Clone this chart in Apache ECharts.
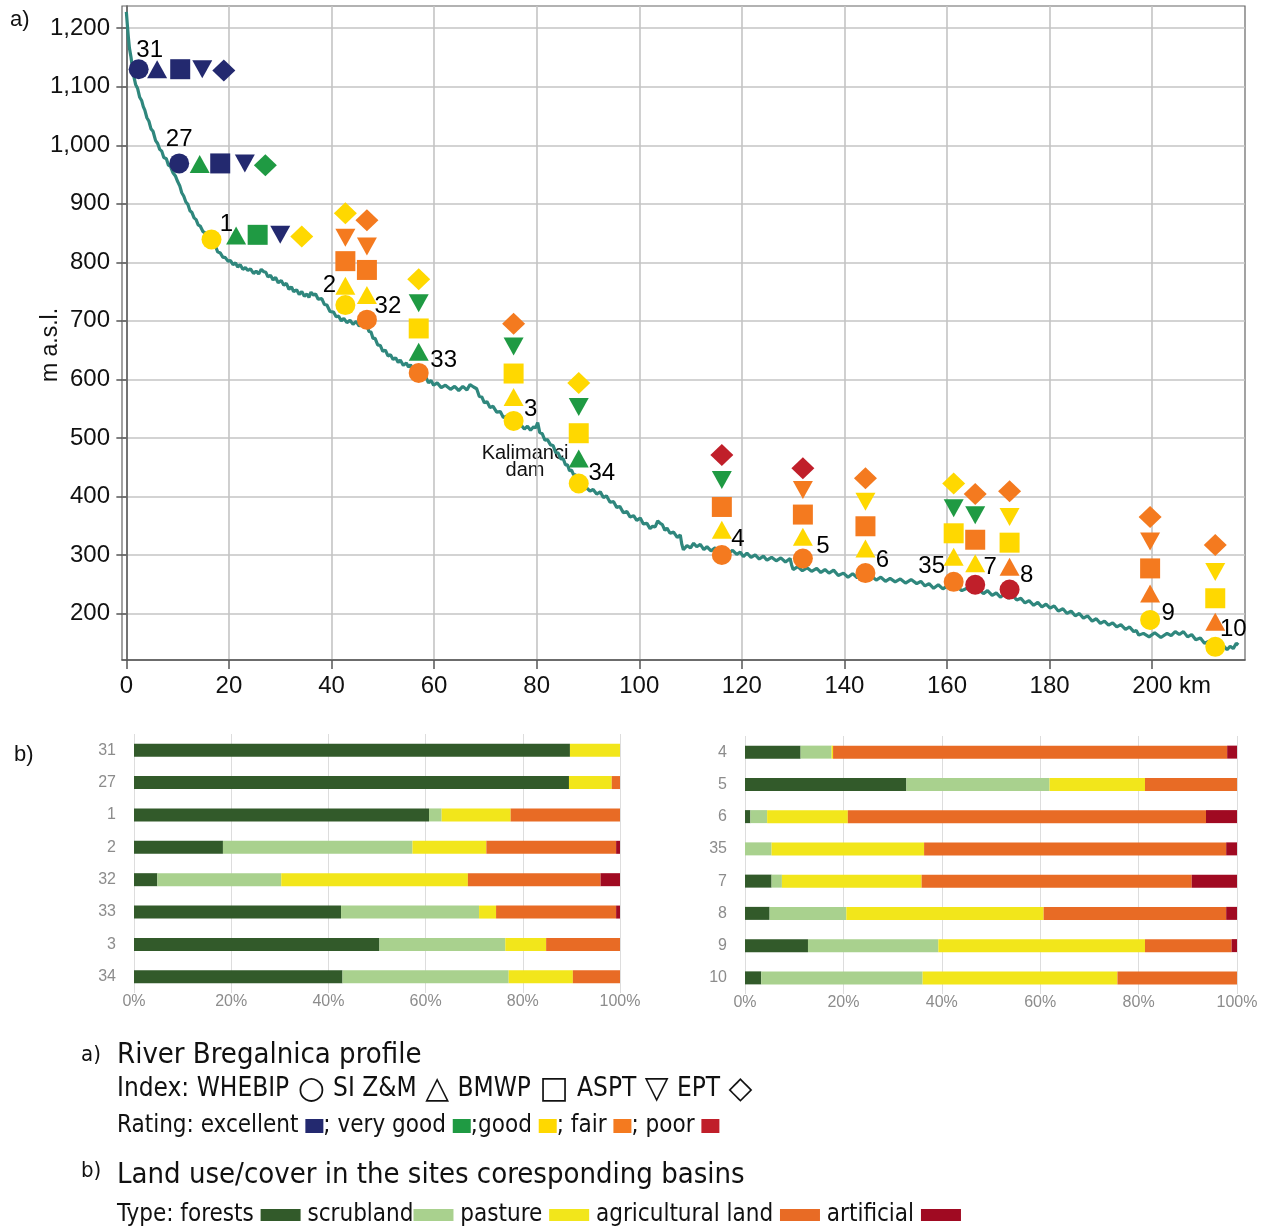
<!DOCTYPE html>
<html>
<head>
<meta charset="utf-8">
<script src="https://cdn.jsdelivr.net/npm/echarts@6/dist/echarts.min.js"></script>
<style>
html,body{margin:0;padding:0;background:#fff;}
#chart{width:1267px;height:1232px;}
</style>
</head>
<body>
<div id="chart"></div>
<script>
// ---------- DATA ----------
// River profile: [km, elevation m a.s.l.]
const riverProfile = [
[0,1228],[0.2,1205],[0.4,1184],[0.6,1166],[0.9,1151],[1.1,1138],[1.4,1120],[1.8,1104],[2.2,1097],[2.6,1082],[3.0,1076],[3.3,1066],[3.6,1060],[4.0,1047],[4.4,1041],[4.8,1028],[5.2,1024],[5.7,1008],[6.1,1003],[6.5,993],[6.9,990],[7.3,979],[7.8,977],[8.2,966],[8.6,964],[9.1,953],[9.6,947],[10.0,938],[10.4,931],[10.8,919],[11.2,913],[11.6,903],[12.0,899],[12.4,888],[12.8,885],[13.2,876],[13.6,873],[14.0,864],[14.4,862],[14.9,853],[15.4,850],[15.9,841],[16.4,839],[16.9,830],[17.4,827],[17.8,818],[18.3,816],[18.8,809],[19.3,808],[19.8,802],[20.3,803],[20.8,796],[21.3,799],[21.7,792],[22.2,796],[22.7,788],[23.2,791],[23.7,786],[24.2,789],[24.8,781],[25.3,785],[25.8,780],[26.3,788],[26.8,784],[27.2,783],[27.6,775],[28.1,778],[28.6,770],[29.1,774],[29.6,765],[30.2,769],[30.7,761],[31.2,764],[31.7,754],[32.2,758],[32.6,750],[33.2,753],[33.7,745],[34.2,750],[34.7,742],[35.2,746],[35.6,740],[36.0,749],[36.5,744],[36.9,746],[37.4,737],[38.1,738],[38.6,728],[39.1,727],[39.7,716],[40.4,715],[40.9,707],[41.4,708],[41.9,700],[42.4,704],[43.0,697],[43.6,701],[44.2,694],[44.8,699],[45.4,691],[46.0,696],[46.4,688],[46.9,692],[47.3,682],[47.7,681],[48.1,670],[48.5,670],[49.0,659],[49.5,658],[50.0,648],[50.5,650],[51.0,640],[51.5,642],[52.0,634],[52.5,637],[53.0,629],[53.4,633],[54.0,624],[54.6,628],[55.0,621],[55.4,625],[55.9,616],[56.4,619],[56.9,610],[57.3,612],[57.8,602],[58.4,604],[58.9,594],[59.4,598],[59.9,590],[60.6,594],[61.4,586],[62.2,590],[63.2,583],[64.0,588],[64.8,581],[65.6,588],[66.4,582],[67.0,591],[67.7,587],[68.3,584],[68.8,571],[69.3,570],[69.8,560],[70.3,562],[70.9,552],[71.5,554],[72.2,544],[72.9,545],[73.5,535],[74.1,537],[74.8,527],[75.5,528],[76.2,519],[76.9,523],[77.6,515],[78.2,520],[78.8,513],[79.4,519],[79.8,517],[80.2,526],[80.6,509],[81.1,507],[81.6,496],[82.1,497],[82.7,488],[83.2,487],[83.7,475],[84.2,474],[84.7,464],[85.2,464],[85.6,454],[86.0,454],[86.4,444],[86.8,445],[87.2,437],[87.6,437],[88.0,427],[88.5,428],[89.1,419],[89.8,414],[90.4,409],[91.0,412],[91.7,404],[92.4,408],[93.0,398],[93.6,401],[94.3,390],[95.0,391],[95.6,381],[96.2,383],[96.9,372],[97.6,374],[98.2,365],[98.9,367],[99.5,359],[100.2,363],[100.8,353],[101.5,354],[102.1,345],[102.6,349],[103.1,348],[103.6,358],[104.1,354],[104.5,352],[105.0,342],[105.4,346],[106.0,337],[106.7,339],[107.4,330],[108.0,334],[108.3,318],[108.6,309],[109.3,316],[110.0,312],[110.6,320],[111.2,314],[111.9,318],[112.6,309],[113.2,314],[114.0,307],[114.8,312],[115.8,305],[116.6,309],[117.4,303],[118.2,308],[119.0,301],[119.7,305],[120.3,297],[121.0,303],[121.8,296],[122.6,300],[123.4,293],[124.2,298],[124.9,291],[125.8,296],[126.7,290],[127.6,295],[128.5,288],[129.4,294],[129.7,283],[130.0,275],[130.9,280],[131.8,273],[132.7,278],[133.6,272],[134.6,277],[135.4,270],[136.2,275],[137.0,269],[137.9,274],[138.8,265],[139.8,269],[140.7,262],[141.6,268],[142.5,261],[143.5,267],[144.4,260],[145.3,264],[146.2,257],[147.1,262],[148.0,255],[148.9,260],[149.9,254],[150.9,259],[151.9,252],[153.0,258],[154.1,251],[154.9,255],[155.7,247],[156.5,251],[157.4,243],[158.3,249],[159.2,242],[160.1,247],[161.0,241],[161.9,246],[162.9,239],[163.9,243],[165.0,236],[166.1,241],[167.1,234],[167.9,239],[168.8,231],[169.6,235],[170.4,228],[171.2,233],[172.0,226],[172.8,231],[173.6,223],[174.4,226],[175.2,218],[176.0,222],[176.9,214],[177.7,219],[178.5,211],[179.3,216],[180.1,209],[180.9,213],[181.7,204],[182.6,208],[183.4,200],[184.2,204],[185.0,196],[185.8,200],[186.6,192],[187.4,196],[188.3,187],[189.1,191],[189.9,183],[190.7,187],[191.5,180],[192.3,184],[193.1,177],[193.9,181],[194.8,173],[195.6,177],[196.4,169],[196.9,171],[197.4,163],[198.3,166],[199.4,160],[200.5,167],[201.7,159],[202.9,166],[203.7,162],[204.5,169],[205.3,164],[206.1,169],[206.9,160],[207.7,164],[208.5,155],[209.4,158],[210.2,149],[211.0,152],[211.8,143],[212.6,146],[213.3,139],[214.0,144],[214.6,138],[215.2,144],[215.8,140],[216.4,149],[216.8,146]
];

const sites = ['31','27','1','2','32','33','3','34','4','5','6','35','7','8','9','10'];
// marker positions [km, m a.s.l.] per index
const whebip = [[2.4,1130],[10.3,969],[16.6,839],[42.7,727],[46.9,702],[57.0,611],[75.5,529],[88.2,422],[116.1,300],[131.9,294],[144.1,269],[161.3,254],[165.5,249],[172.2,241],[199.6,189],[212.3,143]];
const siZM   = [[6.0,1130],[14.3,968],[21.4,846],[42.7,760],[46.9,744],[57.0,647],[75.5,570],[88.2,465],[116.1,343],[131.9,331],[144.1,311],[161.3,297],[165.5,286],[172.2,280],[199.6,234],[212.3,186]];
const bmwp   = [[10.5,1130],[18.3,969],[25.6,847],[42.7,802],[46.9,787],[57.0,687],[75.5,610],[88.2,508],[116.1,382],[131.9,369],[144.1,349],[161.3,337],[165.5,326],[172.2,321],[199.6,277],[212.3,226]];
const aspt   = [[14.8,1130],[23.1,969],[30.0,847],[42.7,842],[46.9,827],[57.0,730],[75.5,656],[88.2,553],[116.1,428],[131.9,411],[144.1,391],[161.3,380],[165.5,368],[172.2,365],[199.6,323],[212.3,271]];
const ept    = [[19.0,1128],[27.1,966],[34.2,844],[42.7,884],[46.9,872],[57.0,771],[75.5,695],[88.2,594],[116.1,471],[131.9,448],[144.1,431],[161.3,422],[165.5,404],[172.2,409],[199.6,365],[212.3,317]];
// ratings: E excellent, VG very good, G good, F fair, P poor
const whebipRating = ['E','E','G','G','F','F','G','G','F','F','F','F','P','P','G','G'];
const siZMRating   = ['E','VG','VG','G','G','VG','G','VG','G','G','G','G','G','F','F','F'];
const bmwpRating   = ['E','E','VG','F','F','G','G','G','F','F','F','G','F','G','F','G'];
const asptRating   = ['E','E','E','F','F','VG','VG','VG','VG','F','G','VG','VG','G','F','G'];
const eptRating    = ['E','VG','G','G','F','G','F','G','P','P','F','G','F','F','F','F'];

const xTicks = [0,20,40,60,80,100,120,140,160,180,200];
const yTicks = [200,300,400,500,600,700,800,900,1000,1100,1200];

// land use (%)
const landSitesA = ['31','27','1','2','32','33','3','34'];
const landSitesB = ['4','5','6','35','7','8','9','10'];
const forests      = [89.7,89.5,60.7,18.3,4.8,42.6,50.5,42.9, 11.3,32.8,1.1,0,5.4,5.0,12.8,3.3];
const scrubland    = [0,0,2.6,39.0,25.5,28.4,25.9,34.2, 6.3,29.1,3.4,5.4,2.1,15.6,26.5,32.8];
const pasture      = [10.3,8.8,14.2,15.2,38.4,3.5,8.4,13.2, 0.3,19.4,16.4,31.0,28.4,40.1,42.0,39.6];
const agricultural = [0,1.7,22.5,26.7,27.3,24.7,15.2,9.7, 80.1,18.7,72.8,61.4,54.9,37.1,17.6,24.3];
const artificial   = [0,0,0,0.8,4.0,0.8,0,0, 2.0,0,6.3,2.2,9.2,2.2,1.1,0];
const landTypes = ['forests','scrubland','pasture','agricultural land','artificial'];

// ---------- STYLE ----------
const ratingColor = {E:'#23296f', VG:'#1f9a43', G:'#ffd800', F:'#f47a1f', P:'#c01f2a'};
const landColor = ['#325a2a','#a9d18e','#f2e61b','#e86b25','#a00a22'];
const FONT = 'Liberation Sans, Arial, sans-serif';
const NARROW = '"Liberation Sans Narrow", "DejaVu Sans Condensed", "Liberation Sans", sans-serif';
const labelOffsets = {
 '31':[11,-19],'27':[0,-24],'1':[15,-15],'2':[-16,-20],'32':[21,-13],'33':[25,-13],'3':[17,-12],'34':[23,-10],
 '4':[16,-16],'5':[20,-12],'6':[17,-13],'35':[-22,-15],'7':[15,-17],'8':[17,-14],'9':[18,-7],'10':[18,-17]
};

function markerData(pos, ratings, withLabels){
  return pos.map((p,i)=>{
    const d = {value:p, itemStyle:{color:ratingColor[ratings[i]], opacity:1}};
    if(withLabels){
      d.label = {show:true, formatter:sites[i], position:'inside', offset:labelOffsets[sites[i]],
        color:'#000', fontSize:24, fontFamily:FONT};
    }
    return d;
  });
}
const fmtThousands = v => String(v).replace(/\B(?=(\d{3})+(?!\d))/g, ',');

const chart = echarts.init(document.getElementById('chart'), null, {renderer:'canvas'});

const markerBase = {type:'scatter', xAxisIndex:0, yAxisIndex:0, z:5, silent:true, label:{show:false},
  itemStyle:{opacity:1}};
const series = [
 {type:'line', xAxisIndex:0, yAxisIndex:0, data:riverProfile, showSymbol:false, symbol:'none',
  lineStyle:{color:'#2f877d', width:3.2}, z:2, silent:true},
 Object.assign({}, markerBase, {name:'WHEBIP', symbol:'circle', symbolSize:20, data:markerData(whebip, whebipRating, true), z:6}),
 Object.assign({}, markerBase, {name:'SI Z&M', symbol:'triangle', symbolSize:[20,18], data:markerData(siZM, siZMRating)}),
 Object.assign({}, markerBase, {name:'BMWP', symbol:'rect', symbolSize:20, data:markerData(bmwp, bmwpRating)}),
 Object.assign({}, markerBase, {name:'ASPT', symbol:'triangle', symbolRotate:180, symbolSize:[20,18], data:markerData(aspt, asptRating)}),
 Object.assign({}, markerBase, {name:'EPT', symbol:'diamond', symbolSize:[23,22], data:markerData(ept, eptRating)})
];
const landArrays = [forests, scrubland, pasture, agricultural, artificial];
[0,1].forEach(g=>{
  landArrays.forEach((arr,k)=>{
    series.push({type:'bar', name:landTypes[k], xAxisIndex:g+1, yAxisIndex:g+1, stack:'land'+g,
      data: arr.slice(g*8, g*8+8), barWidth:13, itemStyle:{color:landColor[k]}, silent:true});
  });
});

const barXAxis = idx => ({gridIndex:idx, type:'value', min:0, max:100, interval:20,
  axisLine:{show:false}, axisTick:{show:false},
  splitLine:{show:true, lineStyle:{color:'#dddddd', width:1}},
  axisLabel:{formatter:'{value}%', color:'#8c8c8c', fontSize:16, fontFamily:FONT, margin:1}});
const barYAxis = (idx, data) => ({gridIndex:idx, type:'category', data:data, inverse:true,
  axisLine:{show:false}, axisTick:{show:false},
  axisLabel:{color:'#8c8c8c', fontSize:16, fontFamily:FONT, margin:18}});

const shapeStyle = {fontSize:31, fontFamily:'DejaVu Sans, sans-serif', fill:'#111', padding:[0,1,0,1]};

const option = {
  animation:false,
  backgroundColor:'#ffffff',
  grid:[
    {left:122, right:22, top:6, bottom:572, show:true, borderColor:'#666', borderWidth:1.2},
    {left:134, right:647, top:734, bottom:239},
    {left:745, right:30, top:736, bottom:238}
  ],
  xAxis:[
    {gridIndex:0, type:'value', min:-0.85, max:218.1, splitNumber:11,
     axisLine:{show:true, lineStyle:{color:'#555', width:1.5}},
     axisTick:{show:true, length:9, customValues:xTicks, lineStyle:{color:'#555', width:1.5}},
     splitLine:{show:true, lineStyle:{color:'#c4c4c4', width:1.6}},
     axisLabel:{customValues:xTicks, color:'#111', fontSize:24, fontFamily:FONT, margin:14,
       formatter: v => v===200 ? '{p| }200 km' : String(v), rich:{p:{width:39}}}},
    barXAxis(1), barXAxis(2)
  ],
  yAxis:[
    {gridIndex:0, type:'value', min:120.5, max:1238, splitNumber:11,
     name:'m a.s.l.', nameLocation:'middle', nameGap:60, nameRotate:90, nameMoveOverlap:false,
     nameTextStyle:{color:'#111', fontSize:23, fontFamily:FONT, padding:[0,24,0,0]},
     axisLine:{show:true, lineStyle:{color:'#555', width:1.5}},
     axisTick:{show:true, length:10, customValues:yTicks, lineStyle:{color:'#555', width:1.5}},
     splitLine:{show:true, lineStyle:{color:'#c4c4c4', width:1.6}},
     axisLabel:{customValues:yTicks, color:'#111', fontSize:24, fontFamily:FONT, margin:12, formatter:fmtThousands}},
    barYAxis(1, landSitesA), barYAxis(2, landSitesB)
  ],
  series: series,
  graphic:[
    {type:'text', left:10, top:9, style:{text:'a)', fontSize:22, fontFamily:FONT, fill:'#111'}},
    {type:'text', left:14, top:744, style:{text:'b)', fontSize:22, fontFamily:FONT, fill:'#111'}},
    {type:'text', x:525, y:462, style:{text:'Kalimanci\ndam', fontSize:20, lineHeight:17, fontFamily:FONT, fill:'#111', align:'center', verticalAlign:'middle'}},
    {type:'text', left:81, top:1044, style:{text:'a)', fontSize:22, fontFamily:NARROW, fill:'#111'}},
    {type:'text', left:117, top:1041, style:{text:'River Bregalnica profile', fontSize:29, fontFamily:NARROW, fill:'#111'}},
    {type:'text', left:117, top:1074, style:{
      text:'Index: WHEBIP {s|\u25CB} SI Z&M {s|\u25B3} BMWP {s|\u25A1} ASPT {s|\u25BD} EPT {s|\u25C7}',
      fontSize:26, fontFamily:NARROW, fill:'#111', rich:{s:shapeStyle}}},
    {type:'text', left:117, top:1114, style:{
      text:'Rating: excellent {e| }; very good {vg| };good {g| }; fair {f| }; poor {p| }',
      fontSize:24, fontFamily:NARROW, fill:'#111',
      rich:{
        e:{width:18,height:14,backgroundColor:ratingColor.E},
        vg:{width:18,height:14,backgroundColor:ratingColor.VG},
        g:{width:18,height:14,backgroundColor:ratingColor.G},
        f:{width:18,height:14,backgroundColor:ratingColor.F},
        p:{width:18,height:14,backgroundColor:ratingColor.P}
      }}},
    {type:'text', left:81, top:1160, style:{text:'b)', fontSize:22, fontFamily:NARROW, fill:'#111'}},
    {type:'text', left:117, top:1161, style:{text:'Land use/cover in the sites coresponding basins', fontSize:29, fontFamily:NARROW, fill:'#111'}},
    {type:'text', left:117, top:1203, style:{
      text:'Type: forests {a| } scrubland{b| } pasture {c| } agricultural land {d| } artificial {r| }',
      fontSize:24, fontFamily:NARROW, fill:'#111',
      rich:{
        a:{width:40,height:12,backgroundColor:landColor[0]},
        b:{width:40,height:12,backgroundColor:landColor[1]},
        c:{width:40,height:12,backgroundColor:landColor[2]},
        d:{width:40,height:12,backgroundColor:landColor[3]},
        r:{width:40,height:12,backgroundColor:landColor[4]}
      }}}
  ]
};
chart.setOption(option);
</script>
</body>
</html>
